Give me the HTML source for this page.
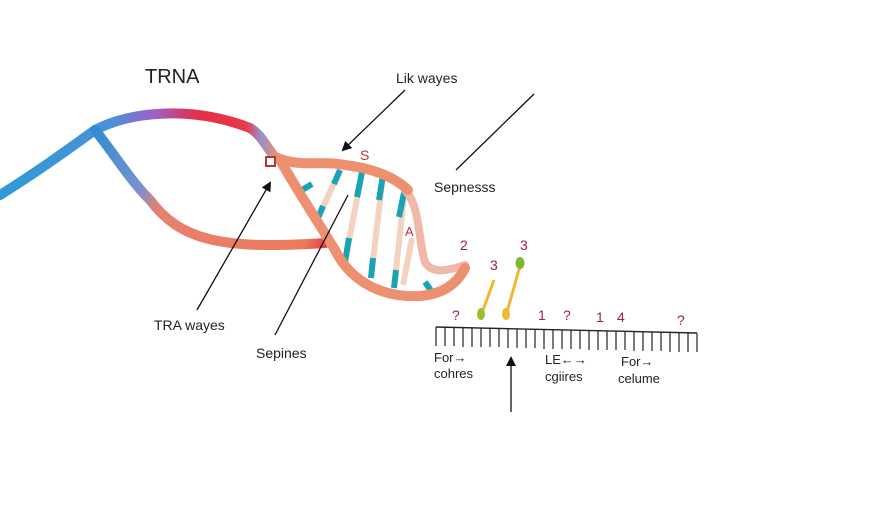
<!DOCTYPE html>
<html><head><meta charset="utf-8"><style>
html,body{margin:0;padding:0;background:#fff;}
svg{display:block;}
text{font-family:"Liberation Sans",sans-serif;}
</style></head><body>
<svg width="896" height="512" viewBox="0 0 896 512" xmlns="http://www.w3.org/2000/svg">
<defs>
<linearGradient id="g1" gradientUnits="userSpaceOnUse" x1="0" y1="0" x2="280" y2="0">
<stop offset="0" stop-color="#2f9ad6"/><stop offset="0.4" stop-color="#4a90d8"/><stop offset="0.55" stop-color="#a060c8"/><stop offset="0.7" stop-color="#e0304a"/><stop offset="0.88" stop-color="#e83a48"/><stop offset="0.93" stop-color="#9a90c8"/><stop offset="1" stop-color="#e89070"/>
</linearGradient>
<linearGradient id="g2" gradientUnits="userSpaceOnUse" x1="95" y1="130" x2="330" y2="250">
<stop offset="0" stop-color="#2f8ed0"/><stop offset="0.25" stop-color="#7a90d0"/><stop offset="0.35" stop-color="#e88070"/><stop offset="0.9" stop-color="#ec7a5a"/><stop offset="1" stop-color="#e8303a"/>
</linearGradient>
<marker id="ah" markerWidth="10" markerHeight="10" refX="8" refY="5" orient="auto" markerUnits="userSpaceOnUse"><path d="M0,0 L10,5 L0,10 z" fill="#111"/></marker>
</defs>
<text x="145" y="83" font-size="20" fill="#222">TRNA</text>
<text x="396" y="83" font-size="14" fill="#222">Lik wayes</text>
<text x="434" y="192" font-size="14" fill="#222">Sepnesss</text>
<text x="154" y="330" font-size="14" fill="#222">TRA wayes</text>
<text x="256" y="358" font-size="14" fill="#222">Sepines</text>
<path d="M0,195 C40,170 70,148 95,130 C130,112 190,105 250,128 C262,135 268,150 275,157" fill="none" stroke="url(#g1)" stroke-width="10" stroke-linecap="round"/>
<path d="M95,130 C115,155 130,180 150,200 C180,240 220,250 325,243" fill="none" stroke="url(#g2)" stroke-width="10" stroke-linecap="round"/>
<g stroke-width="6" stroke-linecap="butt">
<line x1="340" y1="170" x2="318" y2="218" stroke="#f3d2c0"/>
<line x1="340" y1="170" x2="334" y2="184" stroke="#1aa2b5"/>
<line x1="323" y1="206" x2="318" y2="218" stroke="#1aa2b5"/>
<line x1="363" y1="167" x2="345" y2="262" stroke="#f3d2c0"/>
<line x1="363" y1="167" x2="357" y2="197" stroke="#1aa2b5"/>
<line x1="349" y1="238" x2="345" y2="262" stroke="#1aa2b5"/>
<line x1="383" y1="175" x2="371" y2="278" stroke="#f3d2c0"/>
<line x1="383" y1="175" x2="379" y2="200" stroke="#1aa2b5"/>
<line x1="373" y1="258" x2="371" y2="278" stroke="#1aa2b5"/>
<line x1="405" y1="188" x2="394" y2="288" stroke="#f3d2c0"/>
<line x1="405" y1="188" x2="399" y2="217" stroke="#1aa2b5"/>
<line x1="396" y1="270" x2="394" y2="288" stroke="#1aa2b5"/>
<line x1="412" y1="238" x2="403" y2="285" stroke="#f3d2c0"/>
<line x1="302" y1="190" x2="312" y2="184" stroke="#1aa2b5"/>
<line x1="425" y1="282" x2="432" y2="292" stroke="#1aa2b5"/>
</g>
<path d="M405,190 C420,205 418,240 425,262 C432,275 450,270 465,265" fill="none" stroke="#f0b8a8" stroke-width="8" stroke-linecap="round"/>
<path d="M275,157 C300,168 320,160 345,165 C370,168 392,175 408,190" fill="none" stroke="#ec9070" stroke-width="10" stroke-linecap="round"/>
<path d="M280,160 C300,195 320,225 335,250 C350,280 380,298 420,296 C445,294 458,282 465,268" fill="none" stroke="#ec9070" stroke-width="10" stroke-linecap="round"/>
<rect x="266" y="157" width="9" height="9" fill="#fff" stroke="#c0303a" stroke-width="2"/>
<text x="360" y="160" font-size="14" fill="#c0303a">S</text>
<text x="405" y="236" font-size="13" fill="#c0303a">A</text>
<g stroke="#111" stroke-width="1.3" fill="none">
<line x1="405" y1="90" x2="343" y2="150" marker-end="url(#ah)"/>
<line x1="534" y1="94" x2="456" y2="170"/>
<line x1="197" y1="310" x2="270" y2="183" marker-end="url(#ah)"/>
<line x1="275" y1="335" x2="348" y2="195"/>
<line x1="511" y1="412" x2="511" y2="358" marker-end="url(#ah)"/>
</g>
<g font-size="14" fill="#a0203a">
<text x="460" y="250">2</text><text x="520" y="250">3</text><text x="490" y="270">3</text>
<text x="452" y="320">?</text><text x="538" y="320">1</text><text x="563" y="320">?</text>
<text x="596" y="322">1</text><text x="617" y="322">4</text><text x="677" y="325">?</text>
</g>
<line x1="494" y1="280" x2="482" y2="313" stroke="#f0b830" stroke-width="3"/>
<ellipse cx="481" cy="314" rx="4" ry="6" fill="#9cc030"/>
<line x1="520" y1="266" x2="507" y2="312" stroke="#f0b830" stroke-width="3"/>
<ellipse cx="520" cy="263" rx="4.5" ry="6" fill="#7ab830"/>
<ellipse cx="506" cy="314" rx="4" ry="6" fill="#f0b830"/>
<path d="M436,327 L697,333" stroke="#222" stroke-width="1.4" fill="none"/>
<g stroke="#222" stroke-width="1.2">
<line x1="436" y1="327" x2="436" y2="346"/><line x1="445" y1="327" x2="445" y2="346"/><line x1="454" y1="327" x2="454" y2="346"/><line x1="463" y1="328" x2="463" y2="347"/><line x1="472" y1="328" x2="472" y2="347"/><line x1="481" y1="328" x2="481" y2="347"/><line x1="490" y1="328" x2="490" y2="347"/><line x1="499" y1="328" x2="499" y2="347"/><line x1="508" y1="329" x2="508" y2="348"/><line x1="517" y1="329" x2="517" y2="348"/><line x1="526" y1="329" x2="526" y2="348"/><line x1="535" y1="329" x2="535" y2="348"/><line x1="544" y1="330" x2="544" y2="349"/><line x1="553" y1="330" x2="553" y2="349"/><line x1="562" y1="330" x2="562" y2="349"/><line x1="571" y1="330" x2="571" y2="349"/><line x1="580" y1="330" x2="580" y2="349"/><line x1="589" y1="331" x2="589" y2="350"/><line x1="598" y1="331" x2="598" y2="350"/><line x1="607" y1="331" x2="607" y2="350"/><line x1="616" y1="331" x2="616" y2="350"/><line x1="625" y1="331" x2="625" y2="350"/><line x1="634" y1="332" x2="634" y2="351"/><line x1="643" y1="332" x2="643" y2="351"/><line x1="652" y1="332" x2="652" y2="351"/><line x1="661" y1="332" x2="661" y2="351"/><line x1="670" y1="333" x2="670" y2="352"/><line x1="679" y1="333" x2="679" y2="352"/><line x1="688" y1="333" x2="688" y2="352"/><line x1="697" y1="333" x2="697" y2="352"/>
</g>
<g font-size="13" fill="#222">
<text x="434" y="362">For→</text><text x="434" y="378">cohres</text>
<text x="545" y="364">LE←→</text><text x="545" y="381">cgiires</text>
<text x="621" y="366">For→</text><text x="618" y="383">celume</text>
</g>
</svg>
</body></html>
